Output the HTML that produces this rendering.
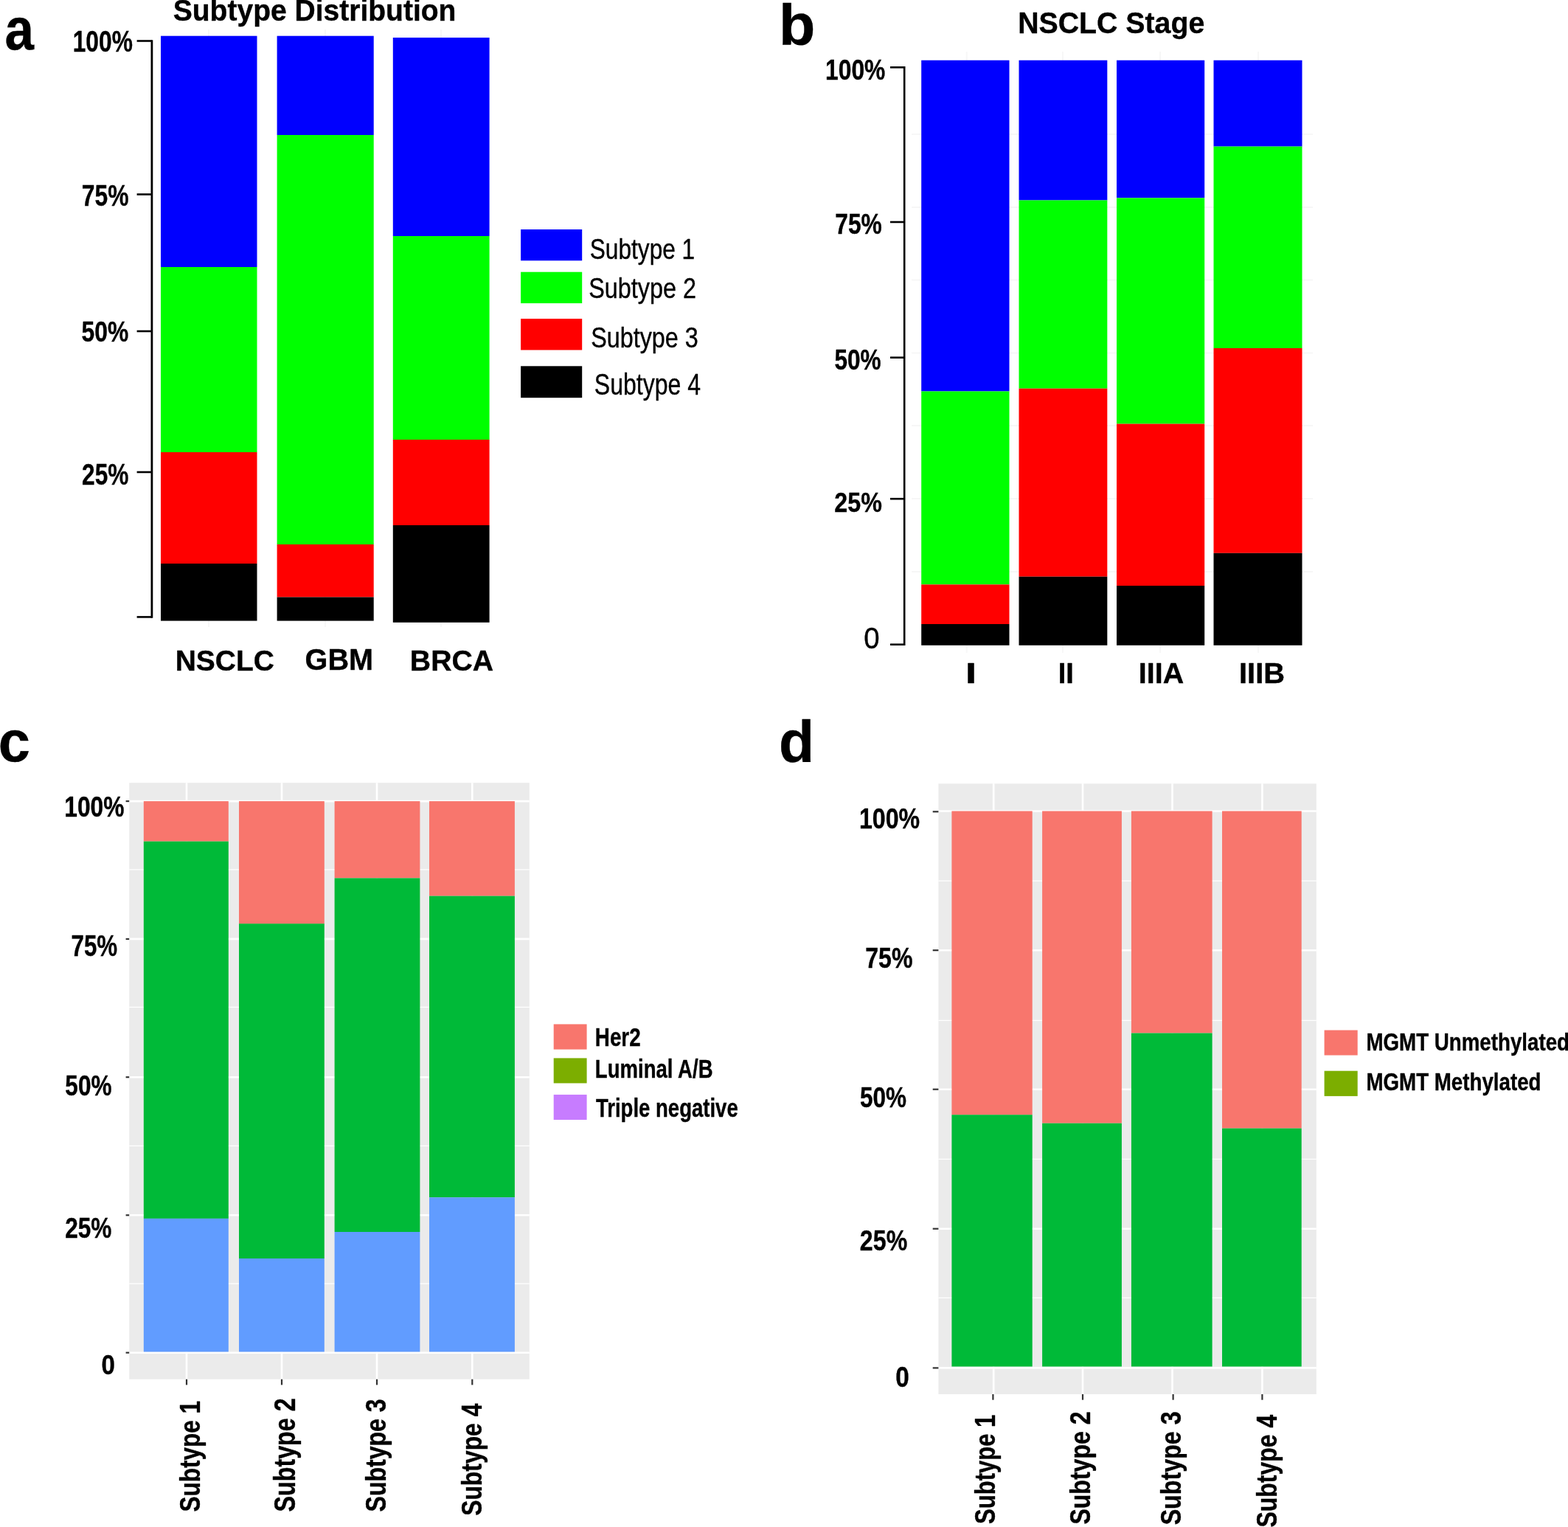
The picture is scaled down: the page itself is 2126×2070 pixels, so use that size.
<!DOCTYPE html>
<html><head><meta charset="utf-8"><title>Figure</title>
<style>
html,body{margin:0;padding:0;background:#fff;}
body{width:2126px;height:2070px;overflow:hidden;}
svg{display:block;}
text{font-family:"Liberation Sans",Arial,sans-serif;fill:#000;stroke:#000;stroke-width:0.4px;stroke-linejoin:round;}
text.b{font-weight:bold;}
text.r{font-weight:normal;}
</style></head>
<body>
<svg width="2126" height="2070" viewBox="0 0 2126 2070">
<rect width="2126" height="2070" fill="#fff"/>
<line x1="283.00" y1="40.00" x2="283.00" y2="850.00" stroke="#f7f7f7" stroke-width="2.00"/>
<line x1="441.00" y1="40.00" x2="441.00" y2="850.00" stroke="#f7f7f7" stroke-width="2.00"/>
<line x1="598.00" y1="40.00" x2="598.00" y2="850.00" stroke="#f7f7f7" stroke-width="2.00"/>
<text class="b" font-size="80.18" transform="translate(6.57 67.20) scale(0.8853 1)">a</text>
<text class="b" font-size="39.80" transform="translate(234.73 27.90) scale(0.9808 1)">Subtype Distribution</text>
<text class="b" font-size="40.42" transform="translate(98.72 69.70) scale(0.7850 1)">100%</text>
<text class="b" font-size="40.00" transform="translate(110.85 279.30) scale(0.7956 1)">75%</text>
<text class="b" font-size="39.58" transform="translate(110.55 463.30) scale(0.8042 1)">50%</text>
<text class="b" font-size="40.00" transform="translate(111.09 657.20) scale(0.7925 1)">25%</text>
<line x1="185.60" y1="55.50" x2="206.00" y2="55.50" stroke="#000" stroke-width="2.60"/>
<line x1="185.60" y1="263.50" x2="206.00" y2="263.50" stroke="#000" stroke-width="2.60"/>
<line x1="185.60" y1="449.00" x2="206.00" y2="449.00" stroke="#000" stroke-width="2.60"/>
<line x1="185.60" y1="640.00" x2="206.00" y2="640.00" stroke="#000" stroke-width="2.60"/>
<line x1="185.60" y1="836.40" x2="206.00" y2="836.40" stroke="#000" stroke-width="2.60"/>
<line x1="205.90" y1="54.20" x2="205.90" y2="837.70" stroke="#000" stroke-width="2.80"/>
<rect x="218.00" y="48.70" width="130.50" height="313.30" fill="#0000ff"/>
<rect x="218.00" y="362.00" width="130.50" height="251.00" fill="#00ff00"/>
<rect x="218.00" y="613.00" width="130.50" height="151.00" fill="#ff0000"/>
<rect x="218.00" y="764.00" width="130.50" height="77.60" fill="#000000"/>
<rect x="375.60" y="48.70" width="131.10" height="134.30" fill="#0000ff"/>
<rect x="375.60" y="183.00" width="131.10" height="555.00" fill="#00ff00"/>
<rect x="375.60" y="738.00" width="131.10" height="71.50" fill="#ff0000"/>
<rect x="375.60" y="809.50" width="131.10" height="32.10" fill="#000000"/>
<rect x="532.80" y="51.00" width="130.80" height="269.00" fill="#0000ff"/>
<rect x="532.80" y="320.00" width="130.80" height="276.00" fill="#00ff00"/>
<rect x="532.80" y="596.00" width="130.80" height="116.00" fill="#ff0000"/>
<rect x="532.80" y="712.00" width="130.80" height="131.80" fill="#000000"/>
<text class="b" font-size="39.29" transform="translate(237.77 908.61) scale(0.9906 1)">NSCLC</text>
<text class="b" font-size="40.57" transform="translate(413.62 907.89) scale(0.9761 1)">GBM</text>
<text class="b" font-size="39.29" transform="translate(555.85 908.61) scale(0.9989 1)">BRCA</text>
<rect x="706.10" y="311.00" width="83.10" height="42.30" fill="#0000ff"/>
<rect x="706.10" y="368.70" width="83.10" height="42.40" fill="#00ff00"/>
<rect x="706.10" y="432.10" width="83.10" height="42.40" fill="#ff0000"/>
<rect x="706.10" y="496.30" width="83.10" height="42.90" fill="#000000"/>
<text class="r" font-size="39.43" transform="translate(799.78 350.81) scale(0.8022 1)">Subtype 1</text>
<text class="r" font-size="38.87" transform="translate(798.14 404.11) scale(0.8330 1)">Subtype 2</text>
<text class="r" font-size="39.01" transform="translate(801.25 470.51) scale(0.8280 1)">Subtype 3</text>
<text class="r" font-size="39.86" transform="translate(805.86 534.50) scale(0.8036 1)">Subtype 4</text>
<line x1="1236.00" y1="182.00" x2="1780.00" y2="182.00" stroke="#f7f7f7" stroke-width="2.00"/>
<line x1="1236.00" y1="281.00" x2="1780.00" y2="281.00" stroke="#f7f7f7" stroke-width="2.00"/>
<line x1="1236.00" y1="379.60" x2="1780.00" y2="379.60" stroke="#f7f7f7" stroke-width="2.00"/>
<line x1="1236.00" y1="478.50" x2="1780.00" y2="478.50" stroke="#f7f7f7" stroke-width="2.00"/>
<line x1="1236.00" y1="577.00" x2="1780.00" y2="577.00" stroke="#f7f7f7" stroke-width="2.00"/>
<line x1="1236.00" y1="676.00" x2="1780.00" y2="676.00" stroke="#f7f7f7" stroke-width="2.00"/>
<line x1="1236.00" y1="775.00" x2="1780.00" y2="775.00" stroke="#f7f7f7" stroke-width="2.00"/>
<line x1="1310.70" y1="70.00" x2="1310.70" y2="885.00" stroke="#f7f7f7" stroke-width="2.00"/>
<line x1="1441.00" y1="70.00" x2="1441.00" y2="885.00" stroke="#f7f7f7" stroke-width="2.00"/>
<line x1="1573.00" y1="70.00" x2="1573.00" y2="885.00" stroke="#f7f7f7" stroke-width="2.00"/>
<line x1="1706.00" y1="70.00" x2="1706.00" y2="885.00" stroke="#f7f7f7" stroke-width="2.00"/>
<text class="b" font-size="77.28" transform="translate(1055.95 60.53) scale(1.0455 1)">b</text>
<text class="b" font-size="40.58" transform="translate(1380.15 45.20) scale(0.9678 1)">NSCLC Stage</text>
<text class="b" font-size="39.58" transform="translate(1119.01 108.10) scale(0.8039 1)">100%</text>
<text class="b" font-size="39.01" transform="translate(1132.25 317.11) scale(0.8145 1)">75%</text>
<text class="b" font-size="39.58" transform="translate(1131.45 501.40) scale(0.7977 1)">50%</text>
<text class="b" font-size="37.31" transform="translate(1131.27 693.83) scale(0.8648 1)">25%</text>
<text class="r" font-size="40.00" transform="translate(1171.37 879.00) scale(0.9581 1)">0</text>
<line x1="1207.00" y1="91.30" x2="1227.00" y2="91.30" stroke="#000" stroke-width="2.60"/>
<line x1="1207.00" y1="301.00" x2="1227.00" y2="301.00" stroke="#000" stroke-width="2.60"/>
<line x1="1207.00" y1="484.70" x2="1227.00" y2="484.70" stroke="#000" stroke-width="2.60"/>
<line x1="1207.00" y1="676.20" x2="1227.00" y2="676.20" stroke="#000" stroke-width="2.60"/>
<line x1="1207.00" y1="873.70" x2="1227.00" y2="873.70" stroke="#000" stroke-width="2.60"/>
<line x1="1226.20" y1="90.00" x2="1226.20" y2="875.00" stroke="#000" stroke-width="2.60"/>
<rect x="1249.20" y="81.70" width="119.30" height="448.80" fill="#0000ff"/>
<rect x="1249.20" y="530.50" width="119.30" height="261.90" fill="#00ff00"/>
<rect x="1249.20" y="792.40" width="119.30" height="53.60" fill="#ff0000"/>
<rect x="1249.20" y="846.00" width="119.30" height="28.80" fill="#000000"/>
<rect x="1381.50" y="81.70" width="119.80" height="189.80" fill="#0000ff"/>
<rect x="1381.50" y="271.50" width="119.80" height="255.20" fill="#00ff00"/>
<rect x="1381.50" y="526.70" width="119.80" height="255.00" fill="#ff0000"/>
<rect x="1381.50" y="781.70" width="119.80" height="93.10" fill="#000000"/>
<rect x="1514.00" y="81.70" width="119.20" height="186.70" fill="#0000ff"/>
<rect x="1514.00" y="268.40" width="119.20" height="306.20" fill="#00ff00"/>
<rect x="1514.00" y="574.60" width="119.20" height="219.40" fill="#ff0000"/>
<rect x="1514.00" y="794.00" width="119.20" height="80.80" fill="#000000"/>
<rect x="1645.50" y="81.70" width="120.00" height="116.90" fill="#0000ff"/>
<rect x="1645.50" y="198.60" width="120.00" height="273.40" fill="#00ff00"/>
<rect x="1645.50" y="472.00" width="120.00" height="277.80" fill="#ff0000"/>
<rect x="1645.50" y="749.80" width="120.00" height="125.00" fill="#000000"/>
<text class="b" font-size="37.96" transform="translate(1308.95 925.50) scale(1.4233 1)">I</text>
<text class="b" font-size="37.96" transform="translate(1434.73 925.50) scale(1.0035 1)">II</text>
<text class="b" font-size="37.96" transform="translate(1543.84 925.50) scale(1.0374 1)">IIIA</text>
<text class="b" font-size="37.96" transform="translate(1680.01 925.50) scale(1.0500 1)">IIIB</text>
<text class="b" font-size="77.99" transform="translate(-2.30 1031.72) scale(0.9942 1)">c</text>
<rect x="175.20" y="1061.20" width="542.60" height="808.50" fill="#ebebeb"/>
<line x1="175.20" y1="1178.90" x2="717.80" y2="1178.90" stroke="#fff" stroke-width="1.30"/>
<line x1="175.20" y1="1365.30" x2="717.80" y2="1365.30" stroke="#fff" stroke-width="1.30"/>
<line x1="175.20" y1="1553.40" x2="717.80" y2="1553.40" stroke="#fff" stroke-width="1.30"/>
<line x1="175.20" y1="1740.10" x2="717.80" y2="1740.10" stroke="#fff" stroke-width="1.30"/>
<line x1="175.20" y1="1086.10" x2="717.80" y2="1086.10" stroke="#fff" stroke-width="2.60"/>
<line x1="175.20" y1="1272.90" x2="717.80" y2="1272.90" stroke="#fff" stroke-width="2.60"/>
<line x1="175.20" y1="1460.20" x2="717.80" y2="1460.20" stroke="#fff" stroke-width="2.60"/>
<line x1="175.20" y1="1647.30" x2="717.80" y2="1647.30" stroke="#fff" stroke-width="2.60"/>
<line x1="175.20" y1="1833.70" x2="717.80" y2="1833.70" stroke="#fff" stroke-width="2.60"/>
<line x1="253.00" y1="1061.20" x2="253.00" y2="1869.70" stroke="#fff" stroke-width="2.60"/>
<line x1="382.00" y1="1061.20" x2="382.00" y2="1869.70" stroke="#fff" stroke-width="2.60"/>
<line x1="511.00" y1="1061.20" x2="511.00" y2="1869.70" stroke="#fff" stroke-width="2.60"/>
<line x1="640.30" y1="1061.20" x2="640.30" y2="1869.70" stroke="#fff" stroke-width="2.60"/>
<rect x="194.80" y="1086.10" width="115.00" height="54.50" fill="#f8766d"/>
<rect x="194.80" y="1140.60" width="115.00" height="511.30" fill="#00ba38"/>
<rect x="194.80" y="1651.90" width="115.00" height="180.60" fill="#619cff"/>
<rect x="324.00" y="1086.10" width="115.80" height="166.00" fill="#f8766d"/>
<rect x="324.00" y="1252.10" width="115.80" height="453.90" fill="#00ba38"/>
<rect x="324.00" y="1706.00" width="115.80" height="126.50" fill="#619cff"/>
<rect x="453.60" y="1086.10" width="115.80" height="104.30" fill="#f8766d"/>
<rect x="453.60" y="1190.40" width="115.80" height="479.60" fill="#00ba38"/>
<rect x="453.60" y="1670.00" width="115.80" height="162.50" fill="#619cff"/>
<rect x="582.00" y="1086.10" width="115.90" height="128.50" fill="#f8766d"/>
<rect x="582.00" y="1214.60" width="115.90" height="408.60" fill="#00ba38"/>
<rect x="582.00" y="1623.20" width="115.90" height="209.30" fill="#619cff"/>
<text class="b" font-size="37.88" transform="translate(87.32 1106.82) scale(0.8377 1)">100%</text>
<text class="b" font-size="40.28" transform="translate(96.47 1295.50) scale(0.7784 1)">75%</text>
<text class="b" font-size="39.01" transform="translate(88.35 1484.71) scale(0.8092 1)">50%</text>
<text class="b" font-size="39.29" transform="translate(88.19 1678.41) scale(0.8055 1)">25%</text>
<text class="b" font-size="37.03" transform="translate(137.48 1862.83) scale(0.8925 1)">0</text>
<line x1="170.60" y1="1086.10" x2="175.20" y2="1086.10" stroke="#333" stroke-width="2.20"/>
<line x1="170.60" y1="1272.90" x2="175.20" y2="1272.90" stroke="#333" stroke-width="2.20"/>
<line x1="170.60" y1="1460.20" x2="175.20" y2="1460.20" stroke="#333" stroke-width="2.20"/>
<line x1="170.60" y1="1647.30" x2="175.20" y2="1647.30" stroke="#333" stroke-width="2.20"/>
<line x1="170.60" y1="1833.70" x2="175.20" y2="1833.70" stroke="#333" stroke-width="2.20"/>
<line x1="253.00" y1="1869.70" x2="253.00" y2="1877.40" stroke="#333" stroke-width="2.20"/>
<line x1="382.00" y1="1869.70" x2="382.00" y2="1877.40" stroke="#333" stroke-width="2.20"/>
<line x1="511.00" y1="1869.70" x2="511.00" y2="1877.40" stroke="#333" stroke-width="2.20"/>
<line x1="640.30" y1="1869.70" x2="640.30" y2="1877.40" stroke="#333" stroke-width="2.20"/>
<text class="b" font-size="39.46" transform="translate(270.71 2049.45) rotate(-90) scale(0.7983 1)">Subtype 1</text>
<text class="b" font-size="40.21" transform="translate(400.16 2049.47) rotate(-90) scale(0.8019 1)">Subtype 2</text>
<text class="b" font-size="39.57" transform="translate(523.09 2049.46) rotate(-90) scale(0.8097 1)">Subtype 3</text>
<text class="b" font-size="39.46" transform="translate(653.41 2054.86) rotate(-90) scale(0.8073 1)">Subtype 4</text>
<rect x="750.70" y="1388.40" width="44.90" height="34.20" fill="#f8766d"/>
<rect x="750.70" y="1434.40" width="44.90" height="34.00" fill="#7cae00"/>
<rect x="750.70" y="1483.90" width="44.90" height="34.10" fill="#c77cff"/>
<text class="b" font-size="35.49" transform="translate(806.82 1417.80) scale(0.7833 1)">Her2</text>
<text class="b" font-size="35.05" transform="translate(806.84 1460.80) scale(0.7863 1)">Luminal A/B</text>
<text class="b" font-size="35.49" transform="translate(807.92 1513.70) scale(0.7761 1)">Triple negative</text>
<text class="b" font-size="78.91" transform="translate(1055.95 1033.31) scale(0.9987 1)">d</text>
<rect x="1272.40" y="1062.30" width="512.40" height="827.70" fill="#ebebeb"/>
<line x1="1272.40" y1="1194.20" x2="1784.80" y2="1194.20" stroke="#fff" stroke-width="1.30"/>
<line x1="1272.40" y1="1383.30" x2="1784.80" y2="1383.30" stroke="#fff" stroke-width="1.30"/>
<line x1="1272.40" y1="1571.40" x2="1784.80" y2="1571.40" stroke="#fff" stroke-width="1.30"/>
<line x1="1272.40" y1="1759.30" x2="1784.80" y2="1759.30" stroke="#fff" stroke-width="1.30"/>
<line x1="1272.40" y1="1099.50" x2="1784.80" y2="1099.50" stroke="#fff" stroke-width="2.60"/>
<line x1="1272.40" y1="1288.20" x2="1784.80" y2="1288.20" stroke="#fff" stroke-width="2.60"/>
<line x1="1272.40" y1="1476.70" x2="1784.80" y2="1476.70" stroke="#fff" stroke-width="2.60"/>
<line x1="1272.40" y1="1665.70" x2="1784.80" y2="1665.70" stroke="#fff" stroke-width="2.60"/>
<line x1="1272.40" y1="1854.40" x2="1784.80" y2="1854.40" stroke="#fff" stroke-width="2.60"/>
<line x1="1347.20" y1="1062.30" x2="1347.20" y2="1890.00" stroke="#fff" stroke-width="2.60"/>
<line x1="1468.00" y1="1062.30" x2="1468.00" y2="1890.00" stroke="#fff" stroke-width="2.60"/>
<line x1="1589.50" y1="1062.30" x2="1589.50" y2="1890.00" stroke="#fff" stroke-width="2.60"/>
<line x1="1711.40" y1="1062.30" x2="1711.40" y2="1890.00" stroke="#fff" stroke-width="2.60"/>
<rect x="1290.40" y="1099.50" width="109.30" height="411.70" fill="#f8766d"/>
<rect x="1290.40" y="1511.20" width="109.30" height="341.30" fill="#00ba38"/>
<rect x="1413.10" y="1099.50" width="107.80" height="423.20" fill="#f8766d"/>
<rect x="1413.10" y="1522.70" width="107.80" height="329.80" fill="#00ba38"/>
<rect x="1533.90" y="1099.50" width="109.70" height="301.00" fill="#f8766d"/>
<rect x="1533.90" y="1400.50" width="109.70" height="452.00" fill="#00ba38"/>
<rect x="1657.00" y="1099.50" width="107.70" height="430.10" fill="#f8766d"/>
<rect x="1657.00" y="1529.60" width="107.70" height="322.90" fill="#00ba38"/>
<text class="b" font-size="39.01" transform="translate(1164.99 1122.91) scale(0.8238 1)">100%</text>
<text class="b" font-size="38.01" transform="translate(1173.23 1311.92) scale(0.8453 1)">75%</text>
<text class="b" font-size="39.01" transform="translate(1166.05 1501.21) scale(0.8079 1)">50%</text>
<text class="b" font-size="39.43" transform="translate(1165.87 1694.81) scale(0.8157 1)">25%</text>
<text class="b" font-size="37.88" transform="translate(1214.27 1880.02) scale(0.8781 1)">0</text>
<line x1="1264.70" y1="1100.30" x2="1272.40" y2="1100.30" stroke="#333" stroke-width="2.20"/>
<line x1="1264.70" y1="1288.20" x2="1272.40" y2="1288.20" stroke="#333" stroke-width="2.20"/>
<line x1="1264.70" y1="1476.70" x2="1272.40" y2="1476.70" stroke="#333" stroke-width="2.20"/>
<line x1="1264.70" y1="1665.70" x2="1272.40" y2="1665.70" stroke="#333" stroke-width="2.20"/>
<line x1="1264.70" y1="1854.40" x2="1272.40" y2="1854.40" stroke="#333" stroke-width="2.20"/>
<line x1="1346.40" y1="1890.00" x2="1346.40" y2="1897.70" stroke="#333" stroke-width="2.20"/>
<line x1="1468.00" y1="1890.00" x2="1468.00" y2="1897.70" stroke="#333" stroke-width="2.20"/>
<line x1="1590.60" y1="1890.00" x2="1590.60" y2="1897.70" stroke="#333" stroke-width="2.20"/>
<line x1="1711.40" y1="1890.00" x2="1711.40" y2="1897.70" stroke="#333" stroke-width="2.20"/>
<text class="b" font-size="39.03" transform="translate(1348.60 2065.93) rotate(-90) scale(0.7946 1)">Subtype 1</text>
<text class="b" font-size="39.14" transform="translate(1477.68 2066.56) rotate(-90) scale(0.8184 1)">Subtype 2</text>
<text class="b" font-size="39.25" transform="translate(1600.56 2067.37) rotate(-90) scale(0.8212 1)">Subtype 3</text>
<text class="b" font-size="39.14" transform="translate(1730.98 2070.46) rotate(-90) scale(0.8161 1)">Subtype 4</text>
<rect x="1795.60" y="1396.50" width="45.10" height="34.00" fill="#f8766d"/>
<rect x="1795.60" y="1451.70" width="45.10" height="34.20" fill="#7cae00"/>
<text class="b" font-size="33.45" transform="translate(1852.43 1477.60) scale(0.8287 1)">MGMT Methylated</text>
<text class="b" font-size="33.45" transform="translate(1852.43 1424.20) scale(0.8287 1)">MGMT Unmethylated</text>
</svg>
</body></html>
